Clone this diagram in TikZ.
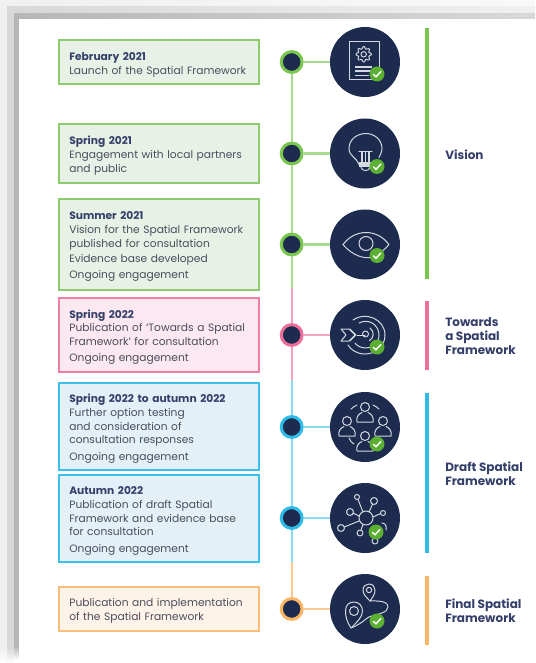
\documentclass[tikz,border=0pt]{standalone}
\usepackage{fontspec}
\setmainfont{Poppins}
\definecolor{navy}{HTML}{1C2B4E}
\definecolor{ink}{HTML}{4A4C5C}
\definecolor{headink}{HTML}{34406A}
\definecolor{iconline}{HTML}{D4D8E0}
\definecolor{okgreen}{HTML}{5BB033}
\definecolor{shA}{HTML}{F0F0F0}\definecolor{shB}{HTML}{D8D8D8}\definecolor{shC}{HTML}{B6B6B6}
\definecolor{gbar}{HTML}{7AC74F}\definecolor{gline}{HTML}{A6DB90}\definecolor{gedge}{HTML}{8CCB6E}\definecolor{gfill}{HTML}{E8F1E6}
\definecolor{pbar}{HTML}{EE6F9A}\definecolor{pline}{HTML}{F7A3BD}\definecolor{pedge}{HTML}{EE7FA0}\definecolor{pfill}{HTML}{FCE8F0}
\definecolor{bbar}{HTML}{2EBBE8}\definecolor{bline}{HTML}{8ADAF3}\definecolor{bedge}{HTML}{3CC0EA}\definecolor{bfill}{HTML}{E3F0F7}
\definecolor{obar}{HTML}{FBB565}\definecolor{oline}{HTML}{FCC98E}\definecolor{oedge}{HTML}{FBBD7C}\definecolor{ofill}{HTML}{FEF3E8}
\tikzset{
  box/.style={draw=#1edge,fill=#1fill,line width=1.5pt,minimum width=150.5pt,inner xsep=8.0pt,inner ysep=0pt,
    text width=134.5pt,align=left,text=ink,font=\fontsize{8}{10.3}\selectfont,
    execute at begin node={\leavevmode\vrule width 0pt height 9.6pt depth 0pt\relax}},
  dot/.style={circle,draw=#1bar,fill=navy,line width=2.3pt,minimum size=15.6pt,inner sep=0pt},
  bigc/.style={circle,fill=navy,minimum size=52.5pt,inner sep=0pt},
  tl/.style={draw=#1line,line width=1.6pt},
  bar/.style={draw=#1bar,line width=2.3pt},
  phase/.style={anchor=west,align=left,text=headink,inner sep=0pt,font=\fontsize{9}{10.3}\selectfont\bfseries},
  ic/.style={draw=iconline,line width=0.75pt,line cap=round,line join=round},
}
\newcommand{\okbadge}[2]{\fill[okgreen] (#1,#2) circle[radius=7.5];
  \draw[white,line width=1.1pt,line cap=round,line join=round] (#1-3.5,#2+0.3) -- (#1-1,#2+2.8) -- (#1+3.8,#2-2.4);}
\newcommand{\hd}[1]{\textbf{\textcolor{headink}{#1}}}
\newcommand{\person}[2]{\draw[ic] (#1,#2) circle[radius=4.5];
  \draw[ic] (#1-8,#2+15) -- (#1+8,#2+15) (#1-8,#2+15) .. controls (#1-9,#2+9) and (#1-6,#2+7) .. (#1-3,#2+5.5) (#1+8,#2+15) .. controls (#1+9,#2+9) and (#1+6,#2+7) .. (#1+3,#2+5.5);}
\begin{document}
\begin{tikzpicture}[x=0.75pt,y=-0.75pt]
\useasboundingbox (0,0) rectangle (535,663);
% screenshot shadow
\fill[white] (0,0) rectangle (535,663);
\shade[left color=shA,right color=white!60!shA] (0,0) rectangle (535,7);
\shade[left color=shB,right color=shA] (7,7) rectangle (535,14);
\shade[left color=shC,right color=shB] (14,14) rectangle (535,19);
\fill[shA] (0,0) rectangle (7,663);
\fill[shB] (7,7) rectangle (14,648);
\fill[shC] (14,14) rectangle (19,646);
\shade[top color=shC,bottom color=white] (14,646) rectangle (19,660);
\shade[top color=shB,bottom color=white] (7,648) rectangle (14,663);
\shade[top color=shA,bottom color=white] (0,648) rectangle (7,663);
\fill[white] (19,19) rectangle (535,663);
% text boxes
\node[box=g,minimum height=33pt] (b1) at (159,62.5) {\hd{February 2021}\\Launch of the Spatial Framework};
\node[box=g,minimum height=43.5pt] (b2) at (159,153.5) {\hd{Spring 2021}\\Engagement with local partners\\and public};
\node[box=g,minimum height=68pt] (b3) at (159,244.5) {\hd{Summer 2021}\\Vision for the Spatial Framework\\published for consultation\\[1.3pt]Evidence base developed\\[1.8pt]Ongoing engagement};
\node[box=p,minimum height=55.5pt] (b4) at (159,335) {\hd{Spring 2022}\\Publication of ‘Towards a Spatial\\Framework’ for consultation\\[1.8pt]Ongoing engagement};
\node[box=b,minimum height=65.5pt] (b5) at (159,426.5) {\hd{Spring 2022 to autumn 2022}\\Further option testing\\and consideration of\\consultation responses\\[1.8pt]Ongoing engagement};
\node[box=b,minimum height=65.5pt] (b6) at (159,518.5) {\hd{Autumn 2022}\\Publication of draft Spatial\\Framework and evidence base\\for consultation\\[1.8pt]Ongoing engagement};
\node[box=o,minimum height=33pt] (b7) at (159,608.5) {Publication and implementation\\of the Spatial Framework};
% big circles
\node[bigc] (c1) at (365,62) {};
\node[bigc] (c2) at (365,153.5) {};
\node[bigc] (c3) at (365,244.5) {};
\node[bigc] (c4) at (365,335) {};
\node[bigc] (c5) at (365,427) {};
\node[bigc] (c6) at (365,518) {};
\node[bigc] (c7) at (365,609) {};
% timeline dots
\node[dot=g] (d1) at (291.7,62) {};
\node[dot=g] (d2) at (291.7,153.5) {};
\node[dot=g] (d3) at (291.7,244.5) {};
\node[dot=p] (d4) at (291.7,335) {};
\node[dot=b] (d5) at (291.7,427) {};
\node[dot=b] (d6) at (291.7,518) {};
\node[dot=o] (d7) at (291.7,609) {};
\coordinate (j1) at (291.7,288);
\coordinate (j2) at (291.7,380);
\coordinate (j3) at (291.7,562);
% connectors
\draw[tl=g] (d1) -- (d2);
\draw[tl=g] (d2) -- (d3);
\draw[tl=g] (d3) -- (j1);
\draw[tl=p] (j1) -- (d4);
\draw[tl=p] (d4) -- (j2);
\draw[tl=b] (j2) -- (d5);
\draw[tl=b] (d5) -- (d6);
\draw[tl=b] (d6) -- (j3);
\draw[tl=o] (j3) -- (d7);
\draw[tl=g] (d1) -- (c1);
\draw[tl=g] (d2) -- (c2);
\draw[tl=g] (d3) -- (c3);
\draw[tl=p] (d4) -- (c4);
\draw[tl=b] (d5) -- (c5);
\draw[tl=b] (d6) -- (c6);
\draw[tl=o] (d7) -- (c7);
% phase bars
\coordinate (v1) at (427,28);\coordinate (v2) at (427,279);
\coordinate (t1) at (427,301);\coordinate (t2) at (427,370);
\coordinate (f1) at (427,393);\coordinate (f2) at (427,553);
\coordinate (i1) at (427,576);\coordinate (i2) at (427,645);
\draw[bar=g] (v1) -- (v2);
\draw[bar=p] (t1) -- (t2);
\draw[bar=b] (f1) -- (f2);
\draw[bar=o] (i1) -- (i2);
\node[phase] (l1) at (445,155) {Vision};
\node[phase] (l2) at (445,336) {Towards\\a Spatial\\Framework};
\node[phase] (l3) at (445,474) {Draft Spatial\\Framework};
\node[phase] (l4) at (445,611) {Final Spatial\\Framework};
% icon 1: document with gear
\begin{scope}[shift={(c1.center)}]
\draw[ic] (-16,-20) rectangle (14,18);
\draw[ic,domain=0:360,samples=121,smooth] plot ({-1.3+(6.6+1.1*cos(8*\x))*cos(\x)},{-7.7+(6.6+1.1*cos(8*\x))*sin(\x)}) -- cycle;
\draw[ic] (-1.3,-7.7) circle[radius=2.7];
\draw[iconline,line width=1.2pt] (-10,5) -- (7,5) (-10,9) -- (6,9) (-10,13.5) -- (4,13.5);
\okbadge{12}{12}
\end{scope}
% icon 2: bulb
\begin{scope}[shift={(c2.center)}]
\draw[ic] (-6,11) .. controls (-8,4) and (-16,3) .. (-16,-5) .. controls (-16,-14) and (-8,-20) .. (1,-20) .. controls (10,-20) and (17,-13) .. (17,-5) .. controls (17,-1) and (15,1) .. (14,4);
\draw[iconline,line width=1pt,line cap=round] (-6,-2) -- (7,-2) (-3,-2) -- (-3,8) (0.5,-2) -- (0.5,8) (4,-2) -- (4,8);
\fill[iconline] (-6,8) -- (7,8) -- (7,13) -- (-6,13) -- cycle;
\draw[ic] (-4,14) .. controls (-3,18) and (4,18) .. (5,14);
\okbadge{12}{13}
\end{scope}
% icon 3: eye
\begin{scope}[shift={(c3.center)}]
\draw[ic] (-22,0) .. controls (-10,-16) and (12,-16) .. (24,0) .. controls (20,5) and (17,7) .. (13,9);
\draw[ic] (-22,0) .. controls (-12,12) and (0,14) .. (5,13);
\draw[ic] (1,-1) circle[radius=7];
\okbadge{12}{11}
\end{scope}
% icon 4: target and arrow
\begin{scope}[shift={(c4.center)}]
\draw[ic] (0.5,-1) circle[radius=3];
\draw[ic] (5,-7) arc[start angle=-55,end angle=60,radius=7.5];
\draw[ic] (-6,-12) .. controls (4,-17) and (14,-10) .. (14,0) .. controls (14,8) and (8,13) .. (1,13) .. controls (-4,13) and (-8,11) .. (-10,8);
\draw[ic] (-12,-15) .. controls (0,-24) and (20,-16) .. (20,0) .. controls (20,12) and (10,19) .. (0,19) .. controls (-8,19) and (-14,15) .. (-17,10);
\draw[ic] (-8,0) -- (0,0);
\draw[ic] (-24,-6) -- (-16,-6) -- (-10,0) -- (-16,6) -- (-24,6) -- (-19,0) -- cycle;
\draw[ic] (-15,-6) -- (-9,0) -- (-15,6);
\okbadge{12}{12}
\end{scope}
% icon 5: people
\begin{scope}[shift={(c5.center)}]
\person{0}{-20}
\person{-18}{-6}
\person{18}{-6}
\person{0}{9}
\draw[ic] (-14,-18) .. controls (-12,-20) and (-10,-21) .. (-8,-22);
\draw[ic] (8,-22) .. controls (10,-21) and (12,-20) .. (14,-18);
\draw[ic] (-16,11) .. controls (-15,14) and (-13,16) .. (-11,17);
\okbadge{12}{17}
\end{scope}
% icon 6: network
\begin{scope}[shift={(c6.center)}]
\draw[ic] (1,0) circle[radius=7];
\draw[ic] (-8,-21) circle[radius=2.5] (9,-17) circle[radius=3.5] (-15,-6) circle[radius=3.5] (18,-5) circle[radius=2.5] (-24,10) circle[radius=3.5] (-5,15) circle[radius=3] (10,23) circle[radius=3];
\draw[ic] (-2,-6) -- (-7,-18.5) (4,-6) -- (7.5,-13.7) (-6,-2) -- (-11.7,-4.8) (8,-1) -- (15.5,-4.5) (-6,3) -- (-20.7,9) (-2,6.5) -- (-4,12);
\draw[ic] (17,5) .. controls (20,5) and (22,8) .. (21,12);
\okbadge{11}{14}
\end{scope}
% icon 7: route pins
\begin{scope}[shift={(c7.center)}]
\draw[ic] (-11,2) circle[radius=4.5];
\draw[ic] (-14,19) .. controls (-18,13) and (-19.5,8) .. (-19.5,2) .. controls (-19.5,-4) and (-16,-7) .. (-11,-7) .. controls (-6,-7) and (-2.5,-3) .. (-2.5,2) .. controls (-2.5,8) and (-8,13) .. (-14,19);
\draw[ic] (4,-19) circle[radius=2.7];
\draw[ic] (5,-8) .. controls (1,-12) and (-2,-15) .. (-2,-19) .. controls (-2,-23) and (1,-25) .. (4,-25) .. controls (8,-25) and (10,-22) .. (10,-19) .. controls (10,-15) and (8,-12) .. (5,-8);
\draw[ic] (5,-8) .. controls (10,-8) and (23,-9) .. (23,-2) .. controls (23,4) and (12,5) .. (4,8) .. controls (0,10) and (-2,14) .. (-14,19);
\okbadge{12}{12}
\end{scope}
\end{tikzpicture}
\end{document}
